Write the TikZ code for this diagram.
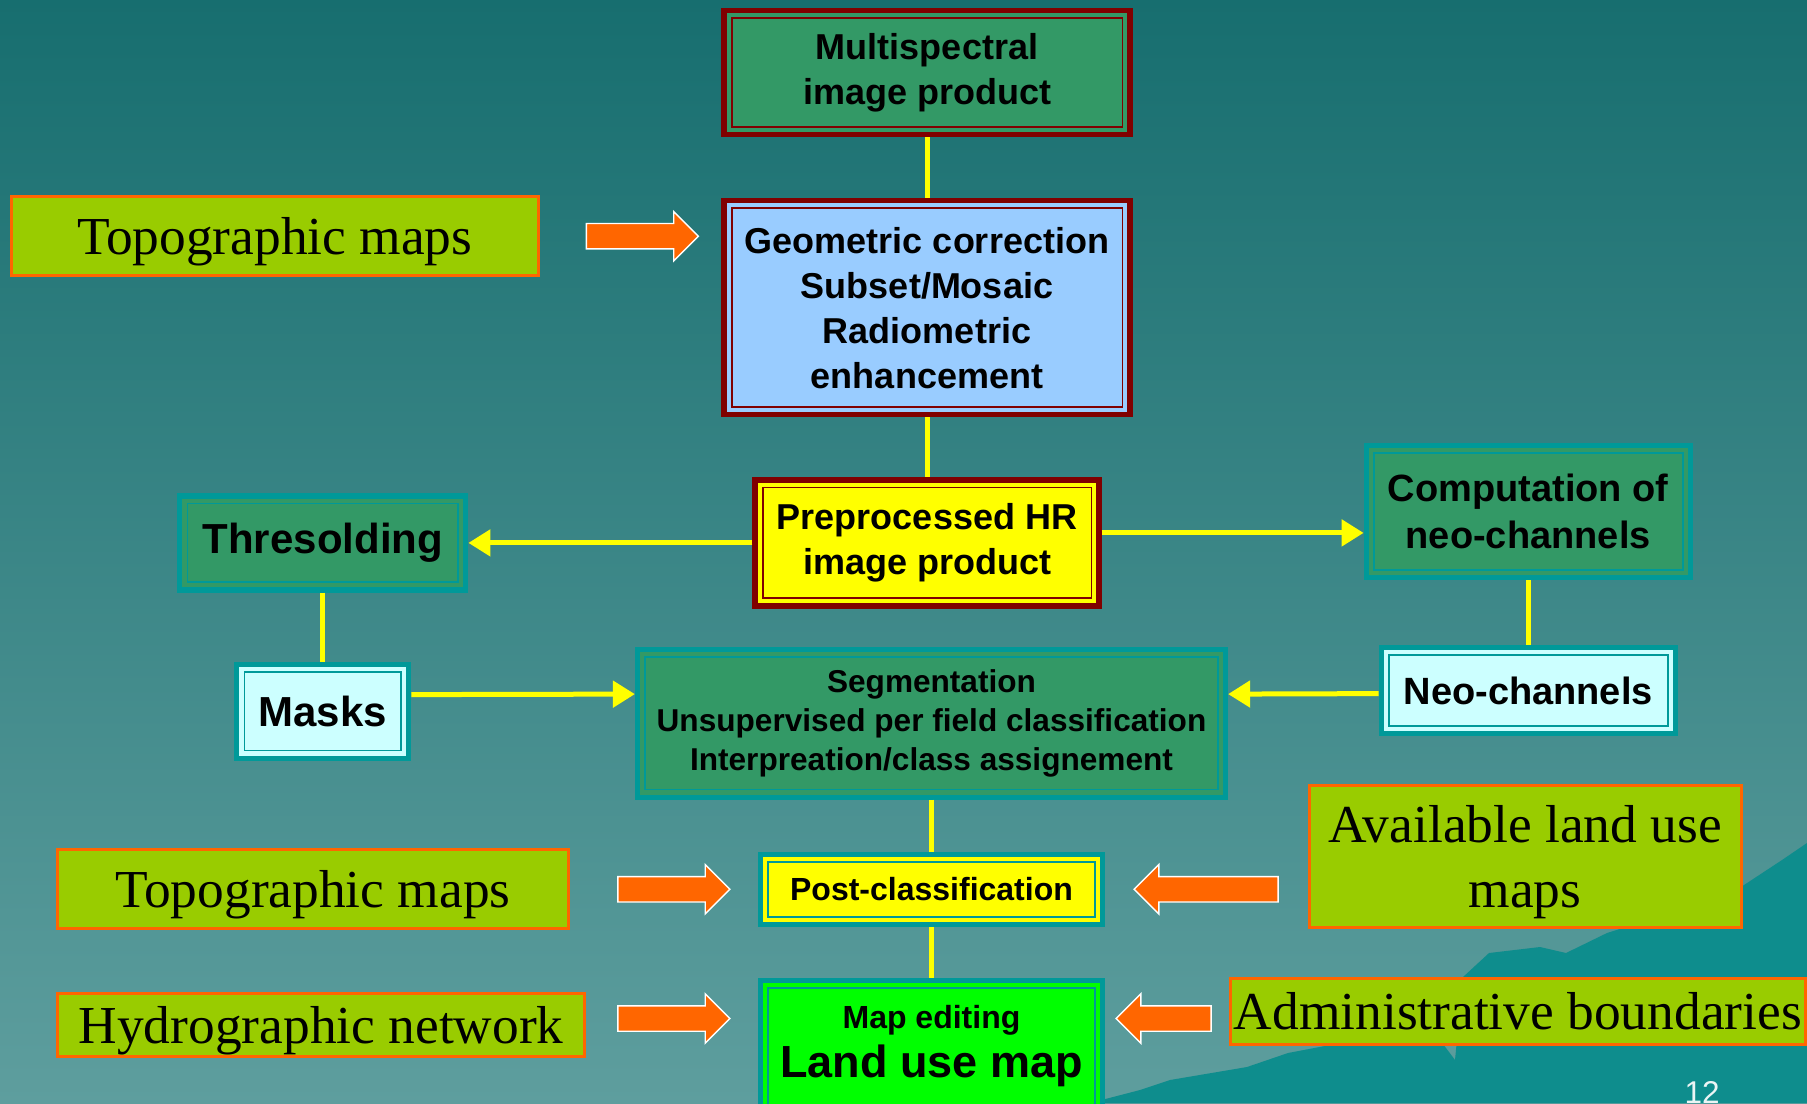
\documentclass[tikz,border=0pt]{standalone}
\usepackage{fontspec}
\setmainfont{Liberation Serif}
\setsansfont{Liberation Sans}
\usepackage{tikz}
\usetikzlibrary{positioning, arrows.meta, shapes.arrows}

\definecolor{bgtop}{HTML}{176E6F}
\definecolor{bgbot}{HTML}{5E9E9E}
\definecolor{mount}{HTML}{0E8D8D}
\definecolor{dkred}{HTML}{800000}
\definecolor{tealb}{HTML}{009999}
\definecolor{gfill}{HTML}{339966}
\definecolor{lblue}{HTML}{99CCFF}
\definecolor{yel}{HTML}{FFFF00}
\definecolor{lcyan}{HTML}{CCFFFF}
\definecolor{bgreen}{HTML}{00FF00}
\definecolor{srcfill}{HTML}{99CC00}
\definecolor{orng}{HTML}{FF6600}

\begin{document}
\begin{tikzpicture}[
  frm/.style={draw=#1, line width=2.6pt, align=center, inner sep=0pt,
              path picture={\draw[#1, line width=0.9pt]
                ([shift={(3.8pt,3.8pt)}]path picture bounding box.south west) rectangle
                ([shift={(-3.8pt,-3.8pt)}]path picture bounding box.north east);}},
  fs/.style 2 args={font=\sffamily\bfseries\fontsize{#1}{#2}\selectfont},
  src/.style={draw=orng, line width=1.5pt, fill=srcfill, align=center,
              inner sep=0pt, text depth=0pt, font=\rmfamily\fontsize{26.7}{32.5}\selectfont},
  blk/.style={single arrow, draw=white, line width=0.7pt, fill=orng,
              inner xsep=0pt, inner ysep=6pt, single arrow head extend=6pt,
              minimum height=#1},
  link/.style={yel, line width=2.5pt},
  flow/.style={link, -{Triangle[length=11pt, width=13pt]}},
  node distance=30pt]
\useasboundingbox (0,0) rectangle (903.5pt,-551.5pt);
\shade[top color=bgtop, bottom color=bgbot] (0,0) rectangle (903.5pt,-551.5pt);
% mountains at the bottom right
\fill[mount] (545pt,-551.5pt) -- (570pt,-545pt) -- (585pt,-540pt) -- (623.5pt,-533.5pt)
  -- (644pt,-526.5pt) -- (665pt,-522.5pt) -- (700pt,-520pt) -- (720pt,-520pt)
  -- (727.5pt,-530pt) -- (731.5pt,-488.5pt) -- (744.5pt,-476.5pt) -- (770pt,-473.5pt)
  -- (783pt,-476.5pt) -- (803.5pt,-466.5pt) -- (840pt,-455pt) -- (870.5pt,-443.5pt)
  -- (891pt,-430pt) -- (903.5pt,-421.5pt) -- (903.5pt,-551.5pt) -- cycle;

% main chain
\node[frm=dkred, fill=gfill, fs={18}{22.5}, minimum width=203pt, minimum height=62pt]
  (ms) at (463.5pt,-36.25pt) {Multispectral\\image product};
\node[frm=dkred, fill=lblue, fs={18}{22.5}, minimum width=203pt, minimum height=107pt,
  below=30.5pt of ms] (geo) {Geometric correction\\Subset/Mosaic\\Radiometric\\enhancement};
\node[frm=dkred, fill=yel, fs={18}{22.5}, minimum width=172pt, minimum height=63pt,
  below=30pt of geo] (pre) {Preprocessed HR\\image product};
\node[frm=tealb, fill=gfill, fs={15.8}{19.5}, minimum width=294pt, minimum height=74pt,
  below=19pt of pre, xshift=2.25pt] (seg)
  {Segmentation\\Unsupervised per field classification\\Interpreation/class assignement};
\node[frm=tealb, fill=yel, fs={16}{19}, minimum width=171pt, minimum height=35pt,
  below=26pt of seg] (post) {Post-classification};
\node[frm=tealb, fill=bgreen, fs={16}{20}, minimum width=171pt, minimum height=70pt,
  text depth=9pt, below=25.5pt of post] (map)
  {Map editing\\[4.5pt]{\fontsize{22.5}{25}\selectfont Land use map}};

% side branches
\node[frm=tealb, fill=gfill, fs={21}{25}, minimum width=143pt, minimum height=47pt,
  left=142pt of pre] (thr) {Thresolding};
\node[frm=tealb, fill=gfill, fs={19}{23.5}, minimum width=162pt, minimum height=66pt,
  right=131pt of pre, yshift=15.75pt] (comp) {Computation of\\neo-channels};
\node[frm=tealb, fill=lcyan, fs={21}{25}, minimum width=86pt, minimum height=47pt,
  below=34.5pt of thr] (masks) {Masks};
\node[frm=tealb, fill=lcyan, fs={19}{23.5}, minimum width=147pt, minimum height=43pt,
  below=32.5pt of comp] (neo) {Neo-channels};

% ancillary data
\node[blk=56pt, left=11pt of geo, yshift=35.75pt] (intopoa) {};
\node[src, minimum width=263.5pt, minimum height=39.5pt, left=23pt of intopoa] (topoa) {Topographic maps};
\node[blk=56pt, left=13.5pt of post] (intopob) {};
\node[src, minimum width=255.5pt, minimum height=39.5pt, left=23.65pt of intopob] (topob) {Topographic maps};
\node[blk=72pt, shape border rotate=180, right=14pt of post] (inavail) {};
\node[src, minimum width=216pt, minimum height=71pt, right=14.35pt of inavail, yshift=16.5pt]
  (avail) {Available land use\\maps};
\node[blk=56pt, left=13.5pt of map, yshift=16pt] (inhydro) {};
\node[src, minimum width=263.5pt, minimum height=31.5pt, left=15.5pt of inhydro, yshift=-3pt]
  (hydro) {Hydrographic network};
\node[blk=47.5pt, shape border rotate=180, right=5pt of map, yshift=16pt] (inadmin) {};
\node[src, minimum width=287.5pt, minimum height=33pt, right=8.5pt of inadmin, yshift=3.75pt]
  (admin) {Administrative boundaries};

\node[text=white!92!teal, font=\sffamily\fontsize{15.75}{18}\selectfont, anchor=base]
  (pg) at (851pt,-551.5pt) {12};

% connectors
\draw[link] (ms) -- (geo);
\draw[link] (geo) -- (pre);
\draw[flow] (pre.west) -- (thr.east);
\draw[flow] ([yshift=5pt]pre.east) -- ([yshift=-10.75pt]comp.west);
\draw[link] (thr) -- (masks);
\draw[link] (comp) -- (neo);
\draw[flow] ([yshift=8.25pt]masks.east) -- ([yshift=14.5pt]seg.west);
\draw[flow] ([yshift=-1.5pt]neo.west) -- ([yshift=14.5pt]seg.east);
\draw[link] (seg) -- (post);
\draw[link] (post) -- (map);
\end{tikzpicture}
\end{document}
